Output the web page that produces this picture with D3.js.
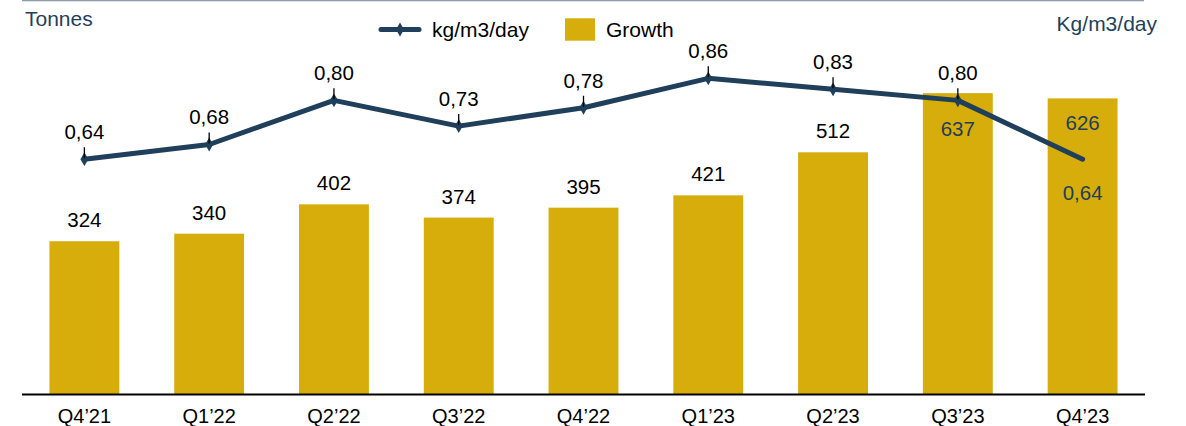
<!DOCTYPE html>
<html><head><meta charset="utf-8">
<script src="https://cdn.jsdelivr.net/npm/d3@7"></script>
<style>
body{margin:0;background:#fff;}
svg{display:block;font-family:"Liberation Sans",Arial,sans-serif;}
</style></head>
<body><svg id="c" width="1186" height="426"></svg>
<script>
const categories = ["Q4\u201921","Q1\u201922","Q2\u201922","Q3\u201922","Q4\u201922","Q1\u201923","Q2\u201923","Q3\u201923","Q4\u201923"];
const growth = [324,340,402,374,395,421,512,637,626];
const kgPerDay = [0.64,0.68,0.80,0.73,0.78,0.86,0.83,0.80,0.64];
const kgLabels = ["0,64","0,68","0,80","0,73","0,78","0,86","0,83","0,80","0,64"];

const gold = "#D6AD0A", navy = "#1F3F5B";
const svg = d3.select("#c");
const left = 22, right = 1145, base = 394.5;

const x = d3.scaleBand().domain(categories).range([left, right]).paddingInner(0.44).paddingOuter(0.22);
const yBar = d3.scaleLinear().domain([0, 834]).range([base, 0]);
const yLine = d3.scaleLinear().domain([0, 1.073]).range([base, 0]);
const cx = c => x(c) + x.bandwidth()/2;

// top rule
svg.append("line").attr("x1",22).attr("x2",1144).attr("y1",0.5).attr("y2",0.5)
  .attr("stroke","#8a9bab").attr("stroke-width",1.5);

// bars
svg.selectAll("rect.bar").data(categories).join("rect")
  .attr("x", c => x(c)).attr("width", x.bandwidth())
  .attr("y", (c,i) => yBar(growth[i])).attr("height", (c,i) => base - yBar(growth[i]))
  .attr("fill", gold);

// axis
const ax = svg.append("g").attr("transform",`translate(0,${base})`)
  .call(d3.axisBottom(x).tickSize(0).tickPadding(0));
ax.select(".domain").attr("stroke","#000").attr("stroke-width",2).attr("d",`M${left},0H${right}`);
ax.selectAll("text").attr("font-size",20).attr("fill","#000").attr("dy","28px")
  .attr("font-family","Liberation Sans, Arial, sans-serif");

// bar labels
const inside = [7,8];
svg.selectAll("text.bl").data(categories).join("text")
  .attr("x", cx)
  .attr("y", (c,i) => i===7 ? yBar(growth[i]) + 43 : i===8 ? yBar(growth[i]) + 32 : yBar(growth[i]) - 14)
  .attr("text-anchor","middle").attr("font-size",20.5)
  .attr("fill",(c,i)=> inside.includes(i) ? navy : "#000")
  .text((c,i)=>growth[i]);

// line
const line = d3.line().x((d,i)=>cx(categories[i])).y(d=>yLine(d));
svg.append("path").datum(kgPerDay).attr("d",line).attr("fill","none")
  .attr("stroke",navy).attr("stroke-width",5).attr("stroke-linejoin","round").attr("stroke-linecap","round");
const diamond = d3.symbol().type(d3.symbolDiamond).size(55);
svg.selectAll("path.mk").data(kgPerDay.slice(0,8)).join("path")
  .attr("transform",(d,i)=>`translate(${cx(categories[i])},${yLine(d)})`)
  .attr("d",diamond).attr("fill",navy);
// leader ticks
svg.selectAll("line.tk").data(kgPerDay.slice(0,8)).join("line")
  .attr("x1",(d,i)=>cx(categories[i])).attr("x2",(d,i)=>cx(categories[i]))
  .attr("y1",d=>yLine(d)-12).attr("y2",d=>yLine(d)-1)
  .attr("stroke","#000").attr("stroke-width",1.3);
// line labels
svg.selectAll("text.ll").data(kgPerDay).join("text")
  .attr("x",(d,i)=>cx(categories[i]))
  .attr("y",(d,i)=> i===8 ? yLine(d)+41 : yLine(d)-20)
  .attr("text-anchor","middle").attr("font-size",20.5)
  .attr("fill",(d,i)=> i===8 ? navy : "#000")
  .text((d,i)=>kgLabels[i]);

// axis titles
svg.append("text").attr("x",25).attr("y",26).attr("font-size",21).attr("fill",navy).text("Tonnes");
svg.append("text").attr("x",1157).attr("y",30.5).attr("text-anchor","end").attr("font-size",21).attr("fill",navy).text("Kg/m3/day");

// legend
const lg = svg.append("g");
lg.append("line").attr("x1",381).attr("x2",419).attr("y1",29.5).attr("y2",29.5)
  .attr("stroke",navy).attr("stroke-width",5).attr("stroke-linecap","round");
lg.append("path").attr("transform","translate(400,29.5)").attr("d",diamond).attr("fill",navy);
lg.append("text").attr("x",432).attr("y",37.3).attr("font-size",21).attr("fill","#000").text("kg/m3/day");
lg.append("rect").attr("x",565).attr("y",18.3).attr("width",30).attr("height",22.4).attr("fill",gold);
lg.append("text").attr("x",606).attr("y",37.3).attr("font-size",21).attr("fill","#000").text("Growth");
</script></body></html>
